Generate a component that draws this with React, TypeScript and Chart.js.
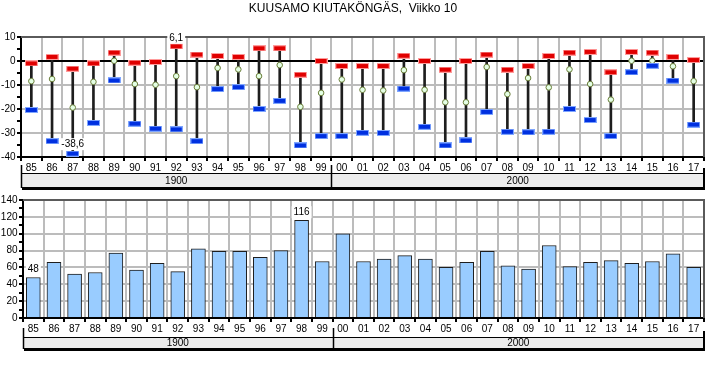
import React, { useEffect, useRef } from 'react';
import { Chart, registerables } from 'chart.js';

Chart.register(...registerables);

const titleText = 'KUUSAMO KIUTAKÖNGÄS,  Viikko 10';
const categories = ['85','86','87','88','89','90','91','92','93','94','95','96','97','98','99','00','01','02','03','04','05','06','07','08','09','10','11','12','13','14','15','16','17'];
const groupLabels = ['1900', '2000'];
const groupSizes = [15, 18];

const maxTemps = [-1.0, 1.7, -3.2, -1.0, 3.5, -0.7, -0.4, 6.1, 2.7, 2.1, 1.7, 5.3, 5.3, -5.7, 0.0, -2.1, -2.1, -2.1, 2.2, 0.0, -3.6, 0.0, 2.7, -3.6, -2.1, 2.1, 3.5, 3.8, -4.7, 3.8, 3.5, 1.7, 0.4];
const meanTemps = [-8.4, -7.5, -19.4, -8.7, 0.1, -9.6, -9.9, -6.3, -10.9, -2.9, -3.5, -6.3, -1.7, -19.1, -13.3, -7.7, -12.0, -12.3, -3.8, -12.0, -17.2, -17.2, -2.5, -13.8, -7.1, -11.0, -3.5, -9.6, -16.1, 0.1, 0.1, -2.2, -8.4];
const minTemps = [-20.4, -33.4, -38.6, -25.8, -8.1, -26.1, -28.2, -28.5, -33.4, -11.7, -10.9, -20.0, -16.6, -35.2, -31.3, -31.3, -29.9, -30.0, -11.5, -27.4, -35.2, -33.1, -21.2, -29.5, -29.7, -29.5, -20.0, -24.6, -31.3, -4.7, -2.0, -8.2, -26.5];
const precipitation = [48, 66, 52, 54, 77, 57, 65, 55, 82, 79, 79, 72, 80, 116, 67, 100, 67, 70, 74, 70, 60, 66, 79, 62, 58, 86, 61, 66, 68, 65, 67, 76, 60];

const FONT = '"Liberation Sans", Arial, sans-serif';

function makeMarker(core: string, halo: string) {
  const c = document.createElement('canvas');
  c.width = 13;
  c.height = 6;
  const ctx = c.getContext('2d')!;
  ctx.fillStyle = halo;
  ctx.fillRect(0, 0, 13, 6);
  ctx.fillStyle = core;
  ctx.fillRect(1, 1, 11, 4);
  return c;
}

function fmt(v: number, dec: number) {
  return v.toFixed(dec).replace('.', ',');
}

function drawLabel(ctx: CanvasRenderingContext2D, text: string, x: number, y: number) {
  ctx.save();
  ctx.font = `10px ${FONT}`;
  const w = ctx.measureText(text).width;
  ctx.fillStyle = '#fff';
  ctx.fillRect(x - w / 2 - 2, y - 6, w + 4, 12);
  ctx.fillStyle = '#000';
  ctx.textAlign = 'center';
  ctx.textBaseline = 'middle';
  ctx.fillText(text, x, y);
  ctx.restore();
}

function frameAndGroups(chart: any, boxTop: number, boxBottom: number, lineTop: number) {
  const { ctx, chartArea, scales } = chart;
  const x = scales.x;
  const left = chartArea.left;
  const right = chartArea.right;
  ctx.save();
  // top and right frame
  ctx.strokeStyle = '#5a5a5a';
  ctx.lineWidth = 2;
  ctx.beginPath();
  ctx.moveTo(left, chartArea.top);
  ctx.lineTo(right, chartArea.top);
  ctx.lineTo(right, chartArea.bottom);
  ctx.stroke();

  // group box
  ctx.fillStyle = '#ececec';
  ctx.fillRect(left, boxTop, right - left, boxBottom - boxTop);
  ctx.strokeStyle = '#000';
  ctx.lineWidth = 1;
  ctx.strokeRect(left + 0.5, boxTop + 0.5, right - left - 1, boxBottom - boxTop - 1);
  ctx.lineWidth = 2;
  ctx.beginPath();
  ctx.moveTo(right, lineTop + 3);
  ctx.lineTo(right, boxBottom + 1);
  ctx.lineTo(left + 1, boxBottom + 1);
  ctx.stroke();

  const bounds: number[] = [left];
  let idx = 0;
  for (let g = 0; g < groupSizes.length; g++) {
    idx += groupSizes[g];
    if (idx >= categories.length) bounds.push(right);
    else bounds.push((x.getPixelForValue(idx - 1) + x.getPixelForValue(idx)) / 2);
  }
  ctx.lineWidth = 1.5;
  ctx.beginPath();
  ctx.moveTo(left + 0.5, lineTop);
  ctx.lineTo(left + 0.5, boxBottom);
  for (let i = 1; i < bounds.length - 1; i++) {
    ctx.moveTo(Math.round(bounds[i]) + 0.5, lineTop);
    ctx.lineTo(Math.round(bounds[i]) + 0.5, boxBottom);
  }
  ctx.stroke();

  ctx.fillStyle = '#000';
  ctx.font = `10px ${FONT}`;
  ctx.textAlign = 'center';
  ctx.textBaseline = 'middle';
  for (let g = 0; g < groupLabels.length; g++) {
    ctx.fillText(groupLabels[g], (bounds[g] + bounds[g + 1]) / 2, (boxTop + boxBottom) / 2 + 0.5);
  }
  ctx.restore();
}

function TopChart() {
  const ref = useRef<HTMLCanvasElement>(null);
  useEffect(() => {
    const red = makeMarker('#e00000', '#ff9c9c');
    const blue = makeMarker('#0030e0', '#7fa6ff');
    const plugin = {
      id: 'topDecor',
      afterDraw(chart: any) {
        frameAndGroups(chart, 173, 188, 165);
        const ctx = chart.ctx;
        ctx.save();
        ctx.fillStyle = '#000';
        ctx.font = `12px ${FONT}`;
        ctx.textAlign = 'center';
        ctx.textBaseline = 'alphabetic';
        ctx.fillText(titleText, 353, 12);
        ctx.restore();
        const maxIdx = maxTemps.indexOf(Math.max(...maxTemps));
        const minIdx = minTemps.indexOf(Math.min(...minTemps));
        const pMax = chart.getDatasetMeta(0).data[maxIdx];
        const pMin = chart.getDatasetMeta(1).data[minIdx];
        drawLabel(ctx, fmt(maxTemps[maxIdx], 1), pMax.x, pMax.y - 8.5);
        drawLabel(ctx, fmt(minTemps[minIdx], 1), pMin.x, pMin.y - 9.5);
      },
    };
    const chart = new Chart(ref.current!, {
      type: 'bar',
      data: {
        labels: categories,
        datasets: [
          { type: 'line', data: maxTemps, showLine: false, pointStyle: red as any, pointRadius: 5, order: 0 } as any,
          { type: 'line', data: minTemps, showLine: false, pointStyle: blue as any, pointRadius: 5, order: 0 } as any,
          { type: 'line', data: meanTemps, showLine: false, pointStyle: 'circle', pointRadius: 2.8, pointBackgroundColor: '#e4ffe4', pointBorderColor: '#6b7d3a', pointBorderWidth: 1, order: 0 } as any,
          { type: 'bar', data: minTemps.map((v, i) => [v, maxTemps[i]]), backgroundColor: '#1e1e1e', barThickness: 2, borderWidth: 0, order: 1 } as any,
        ],
      },
      options: {
        animation: false,
        responsive: false,
        maintainAspectRatio: false,
        layout: { padding: { top: 37, right: 24, left: 0, bottom: 0 } },
        plugins: { legend: { display: false }, tooltip: { enabled: false }, title: { display: false } },
        scales: {
          x: {
            offset: true,
            grid: { color: '#bcbcbc', lineWidth: 2, tickColor: '#000', tickLength: 4, offset: true },
            border: { color: '#000', width: 2 },
            ticks: { color: '#000', font: { family: FONT, size: 10 }, padding: 1, maxRotation: 0, autoSkip: false },
            afterFit: (s: any) => { s.height = 35; },
          },
          y: {
            min: -40,
            max: 10,
            ticks: {
              stepSize: 5,
              autoSkip: false,
              color: '#000',
              font: { family: FONT, size: 10 },
              padding: 1.5,
              callback: (v: any) => (Number(v) % 10 === 0 ? String(v) : ''),
            },
            grid: {
              color: (c: any) => (c.tick && Math.abs(c.tick.value % 10) > 0 ? 'rgba(0,0,0,0)' : c.tick && c.tick.value === 0 ? '#000' : '#bcbcbc'),
              lineWidth: 2,
              tickColor: '#000',
              tickLength: 4,
            },
            border: { color: '#000', width: 2 },
            afterFit: (s: any) => { s.width = 21; },
          },
        },
      } as any,
      plugins: [plugin],
    });
    return () => chart.destroy();
  }, []);
  return <canvas ref={ref} width={728} height={192} style={{ position: 'absolute', left: 0, top: 0, width: 728, height: 192 }} />;
}

function BottomChart() {
  const ref = useRef<HTMLCanvasElement>(null);
  useEffect(() => {
    const plugin = {
      id: 'bottomDecor',
      afterDraw(chart: any) {
        frameAndGroups(chart, 145, 157, 136);
        const ctx = chart.ctx;
        const maxIdx = precipitation.indexOf(Math.max(...precipitation));
        const minIdx = precipitation.indexOf(Math.min(...precipitation));
        const meta = chart.getDatasetMeta(0);
        drawLabel(ctx, String(precipitation[maxIdx]), meta.data[maxIdx].x, meta.data[maxIdx].y - 8);
        drawLabel(ctx, String(precipitation[minIdx]), meta.data[minIdx].x, meta.data[minIdx].y - 8);
      },
    };
    const chart = new Chart(ref.current!, {
      type: 'bar',
      data: {
        labels: categories,
        datasets: [
          { data: precipitation, backgroundColor: '#99ccff', borderColor: '#1e1e1e', borderWidth: 1, barThickness: 14 } as any,
        ],
      },
      options: {
        animation: false,
        responsive: false,
        maintainAspectRatio: false,
        layout: { padding: { top: 8, right: 24, left: 0, bottom: 0 } },
        plugins: { legend: { display: false }, tooltip: { enabled: false }, title: { display: false } },
        scales: {
          x: {
            offset: true,
            grid: { color: '#bcbcbc', lineWidth: 2, tickColor: '#000', tickLength: 4, offset: true },
            border: { color: '#000', width: 2 },
            ticks: { color: '#000', font: { family: FONT, size: 10 }, padding: 1, maxRotation: 0, autoSkip: false },
            afterFit: (s: any) => { s.height = 48; },
          },
          y: {
            min: 0,
            max: 140,
            ticks: {
              stepSize: 10,
              autoSkip: false,
              color: '#000',
              font: { family: FONT, size: 10 },
              padding: 1.5,
              callback: (v: any) => (Number(v) % 20 === 0 ? String(v) : ''),
            },
            grid: {
              color: (c: any) => (c.tick && c.tick.value % 20 !== 0 ? 'rgba(0,0,0,0)' : '#bcbcbc'),
              lineWidth: 2,
              tickColor: '#000',
              tickLength: 4,
            },
            border: { color: '#000', width: 2 },
            afterFit: (s: any) => { s.width = 23; },
          },
        },
      } as any,
      plugins: [plugin],
    });
    return () => chart.destroy();
  }, []);
  return <canvas ref={ref} width={728} height={174} style={{ position: 'absolute', left: 0, top: 192, width: 728, height: 174 }} />;
}

export default function App() {
  return (
    <div style={{ position: 'absolute', left: 0, top: 0, width: 728, height: 366, background: '#fff', overflow: 'hidden' }}>
      <TopChart />
      <BottomChart />
    </div>
  );
}
